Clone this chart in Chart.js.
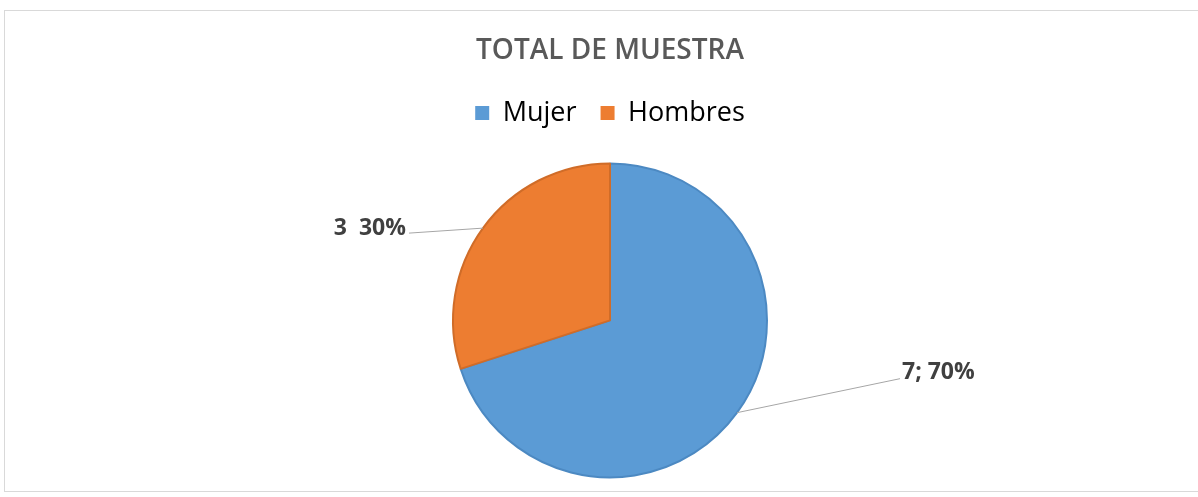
<!DOCTYPE html>
<html>
<head>
<meta charset="utf-8">
<script src="https://cdn.jsdelivr.net/npm/chart.js@4.4.0/dist/chart.umd.min.js"></script>
<style>
  html, body { margin: 0; padding: 0; background: #fff; }
  #frame { position: absolute; left: 4px; top: 10px; width: 1200px; height: 482px; border: 1px solid #d9d9d9; box-sizing: border-box; }
  #wrap { position: absolute; left: 0; top: 0; width: 1198px; height: 497px; }
</style>
</head>
<body>
<div id="frame"></div>
<div id="wrap"><canvas id="myChart" width="1198" height="497"></canvas></div>
<script>
// data
const categories = ['Mujer', 'Hombres'];
const values = [7, 3];
const valueLabels = ['7; 70%', '3  30%'];
const sliceColors = ['#5b9bd5', '#ed7d31'];
const edgeColors = ['#4c89c2', '#d06c28'];

// where each data label sits relative to its slice edge (dx, dy)
const labelOffsets = [[163, -34], [-74, 5]];

const labelPlugin = {
    id: 'sliceLabels',
    afterDatasetsDraw(chart) {
        const ctx = chart.ctx;
        const meta = chart.getDatasetMeta(0);
        meta.data.forEach(function(arc, i) {
            const p = arc.getProps(['x', 'y', 'startAngle', 'endAngle', 'outerRadius'], true);
            const mid = (p.startAngle + p.endAngle) / 2;
            const ex = p.x + Math.cos(mid) * p.outerRadius;
            const ey = p.y + Math.sin(mid) * p.outerRadius;
            const lx = ex + labelOffsets[i][0];
            const ly = ey + labelOffsets[i][1];
            ctx.save();
            ctx.strokeStyle = '#a6a6a6';
            ctx.lineWidth = 1;
            ctx.beginPath();
            ctx.moveTo(ex, ey);
            ctx.lineTo(lx, ly);
            ctx.stroke();
            ctx.font = 'bold 23px "Open Sans"';
            ctx.fillStyle = '#404040';
            ctx.textBaseline = 'middle';
            if (labelOffsets[i][0] > 0) {
                ctx.textAlign = 'left';
                ctx.fillText(valueLabels[i], lx + 2, ly - 6);
            } else {
                ctx.textAlign = 'right';
                ctx.fillText(valueLabels[i], lx - 3, ly - 5);
            }
            ctx.restore();
        });
    }
};

let ctx = document.getElementById('myChart').getContext('2d');
let myChart = new Chart(ctx, {
    type: 'pie',
    data: {
        labels: categories,
        datasets: [{
            data: values,
            backgroundColor: sliceColors,
            borderColor: edgeColors,
            borderWidth: 2,
            radius: 157
        }]
    },
    options: {
        responsive: false,
        animation: false,
        layout: { padding: { top: 0, bottom: 0, left: 22 } },
        plugins: {
            title: {
                display: true,
                text: 'TOTAL DE MUESTRA',
                color: '#595959',
                font: { family: 'Open Sans', size: 28, weight: '600' },
                padding: { top: 34, bottom: 8 }
            },
            legend: {
                display: true,
                position: 'top',
                labels: {
                    color: '#595959',
                    font: { family: 'Open Sans', size: 27 },
                    boxWidth: 14,
                    boxHeight: 14,
                    padding: 24,
                    generateLabels(chart) {
                        return categories.map(function(c, i) {
                            return { text: c, fillStyle: sliceColors[i], strokeStyle: sliceColors[i], lineWidth: 0, index: i };
                        });
                    }
                }
            },
            // empty spacer between legend and pie
            subtitle: {
                display: true,
                text: '',
                weight: 500,
                font: { size: 1 },
                padding: { top: 6, bottom: 0 }
            },
            tooltip: { enabled: false }
        }
    },
    plugins: [labelPlugin]
});
</script>
</body>
</html>
